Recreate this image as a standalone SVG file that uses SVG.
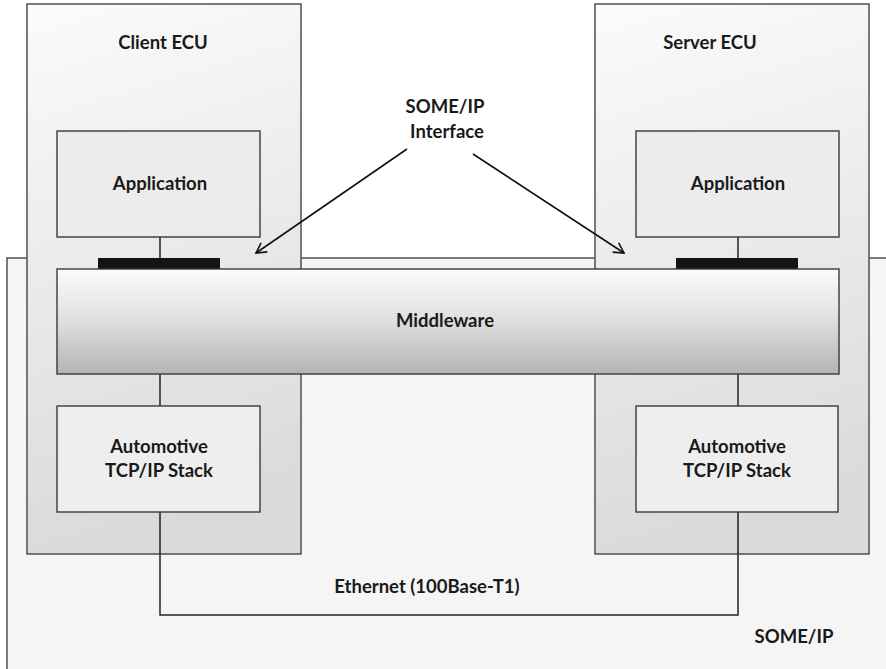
<svg xmlns="http://www.w3.org/2000/svg" width="886" height="669" viewBox="0 0 886 669">
  <defs>
    <linearGradient id="ecuFill" x1="0" y1="0" x2="0.15" y2="1">
      <stop offset="0" stop-color="#fbfbfb"/>
      <stop offset="1" stop-color="#dadada"/>
    </linearGradient>
    <linearGradient id="mwFill" x1="0" y1="0" x2="0" y2="1">
      <stop offset="0" stop-color="#fbfbfb"/>
      <stop offset="0.45" stop-color="#e2e2e2"/>
      <stop offset="1" stop-color="#b4b4b4"/>
    </linearGradient>
    <marker id="openArrow" markerWidth="14" markerHeight="14" refX="12" refY="7" orient="auto" markerUnits="userSpaceOnUse">
      <path d="M2,1.5 L12,7 L2,12.5" fill="none" stroke="#111" stroke-width="1.6"/>
    </marker>
  </defs>
  <style>
    .frame { stroke: #454545; stroke-width: 1.4; }
    .box { fill: #ececec; stroke: #3a3a3a; stroke-width: 1.4; }
    .bar { fill: #141414; }
    .wire { fill: none; stroke: #222; stroke-width: 1.5; }
    .pointer { fill: none; stroke: #111; stroke-width: 1.6; marker-end: url(#openArrow); }
    .label { font-family: Lato, "Liberation Sans", sans-serif; font-weight: bold; font-size: 18.5px; fill: #1a1a1a; text-anchor: middle; }
  </style>

  <rect width="886" height="669" fill="#ffffff"/>

  <!-- SOME/IP domain -->
  <g id="someip-domain">
    <rect class="frame" x="7" y="258" width="900" height="430" fill="#f5f5f5"/>
    <text class="label" x="794" y="643">SOME/IP</text>
  </g>

  <!-- Client ECU -->
  <g id="client-ecu">
    <rect class="frame" x="27" y="4" width="274" height="550" fill="url(#ecuFill)"/>
    <text class="label" x="163" y="49">Client ECU</text>
  </g>

  <!-- Server ECU -->
  <g id="server-ecu">
    <rect class="frame" x="595" y="4" width="274" height="550" fill="url(#ecuFill)"/>
    <text class="label" x="710" y="49">Server ECU</text>
  </g>

  <!-- connectors -->
  <g id="connectors">
    <line class="wire" x1="160" y1="237" x2="160" y2="258"/>
    <line class="wire" x1="738" y1="237" x2="738" y2="258"/>
    <line class="wire" x1="160" y1="374" x2="160" y2="406"/>
    <line class="wire" x1="738" y1="374" x2="738" y2="406"/>
    <polyline class="wire" points="160,512 160,615 738,615 738,512"/>
    <line class="pointer" x1="407" y1="149" x2="256" y2="253"/>
    <line class="pointer" x1="473" y1="154" x2="624" y2="253"/>
  </g>

  <g id="client-application">
    <rect class="box" x="57" y="131" width="203" height="106"/>
    <text class="label" x="160" y="190">Application</text>
  </g>

  <g id="server-application">
    <rect class="box" x="636" y="131" width="203" height="106"/>
    <text class="label" x="738" y="190">Application</text>
  </g>

  <g id="client-interface">
    <rect class="bar" x="98" y="258" width="122" height="11"/>
  </g>

  <g id="server-interface">
    <rect class="bar" x="676" y="258" width="122" height="11"/>
  </g>

  <g id="middleware">
    <rect class="box" x="57" y="269" width="782" height="105" fill="url(#mwFill)" style="fill:url(#mwFill)"/>
    <text class="label" x="445" y="327">Middleware</text>
  </g>

  <g id="client-tcpip">
    <rect class="box" x="57" y="406" width="203" height="106" style="fill:#eeeeee"/>
    <text class="label" x="159" y="453">Automotive</text>
    <text class="label" x="159" y="477">TCP/IP Stack</text>
  </g>

  <g id="server-tcpip">
    <rect class="box" x="636" y="406" width="202" height="106" style="fill:#eeeeee"/>
    <text class="label" x="737" y="453">Automotive</text>
    <text class="label" x="737" y="477">TCP/IP Stack</text>
  </g>

  <g id="someip-interface-label">
    <text class="label" x="445" y="113">SOME/IP</text>
    <text class="label" x="447" y="138">Interface</text>
  </g>

  <g id="ethernet-label">
    <text class="label" x="427" y="593">Ethernet (100Base-T1)</text>
  </g>
</svg>
